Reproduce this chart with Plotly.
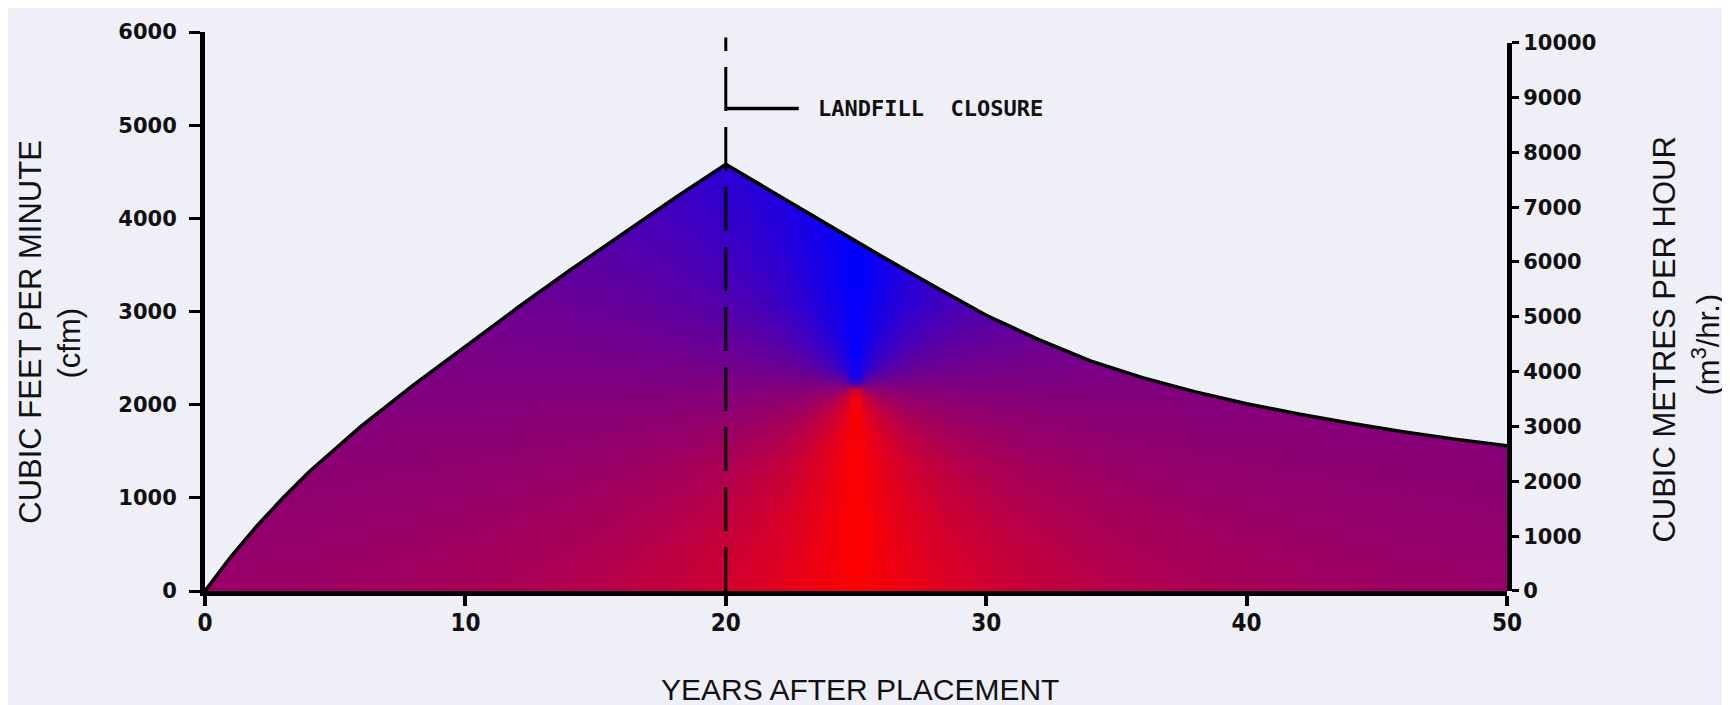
import math
import numpy as np
import plotly.graph_objects as go

# ---------------- data ----------------
years = [0, 1, 2, 3, 4, 5, 6, 8, 10, 12, 14, 16, 18, 20,
         22, 24, 26, 28, 30, 32, 34, 36, 38, 40, 42, 44, 46, 48, 50]
flow_cfm = [0, 370, 700, 1000, 1280, 1530, 1770, 2210, 2630, 3040, 3440, 3830, 4210, 4580,
            4250, 3910, 3590, 3270, 2960, 2700, 2470, 2290, 2140, 2010, 1900, 1800, 1710, 1630, 1560]

x_ticks = [0, 10, 20, 30, 40, 50]
cfm_ticks = [0, 1000, 2000, 3000, 4000, 5000, 6000]
m3h_ticks = [0, 1000, 2000, 3000, 4000, 5000, 6000, 7000, 8000, 9000, 10000]

CLOSURE_YEAR = 20
CLOSURE_LABEL = "LANDFILL\u00a0\u00a0CLOSURE"
CALLOUT_CFM = 5180
CFM_TO_M3H = 1.699
X_MAX = 50
CFM_MAX = 6000
M3H_MAX = 10000

# ---------------- style ----------------
BG = "#efeff7"
PAGE_OFF = 8                       # default body margin of the html page
W, H = 1730 - PAGE_OFF, 705 - PAGE_OFF
L, R, T, B = 197, 223, 16, 114
PW, PH = W - L - R, H - T - B
PX_PER_YEAR = PW / X_MAX
PX_PER_CFM = PH / CFM_MAX
# conic gradient centre (style of the fill)
GC_X, GC_Y = 25.0, 2250.0


def conic_rgb(x, y):
    dx = (x - GC_X) * PX_PER_YEAR
    dy = (y - GC_Y) * PX_PER_CFM
    theta = math.atan2(abs(dx), dy)  # 0 straight up -> pi straight down
    t = theta / math.pi
    r = int(round(255 * t))
    b = int(round(255 * (1 - t)))
    return f"rgb({r},0,{b})"


fig = go.Figure()

# gradient-filled area drawn as thin vertical strips following the data curve
step = 0.25
overlap = 0.08
grid = np.arange(0, X_MAX + 1e-9, step)
ys_samples = np.unique(np.concatenate([
    np.linspace(0, CFM_MAX, 49),
    GC_Y + np.array([-400, -200, -100, -50, -20, -5, 0, 5, 20, 50, 100, 200, 400]),
]))
for i in range(len(grid) - 1):
    xa, xb = float(grid[i]), float(grid[i + 1])
    xb2 = min(xb + overlap, X_MAX)
    ya = float(np.interp(xa, years, flow_cfm))
    yb = float(np.interp(xb, years, flow_cfm))
    yb2 = float(np.interp(xb2, years, flow_cfm))
    xc = 0.5 * (xa + xb)
    cs = [[float(v / CFM_MAX), conic_rgb(xc, v)] for v in ys_samples]
    fig.add_trace(go.Scatter(
        x=[xa, xa, xb, xb2, xb2, xa], y=[0, ya, yb, yb2, 0, 0],
        mode="lines", fill="toself", line=dict(width=0),
        fillgradient=dict(type="vertical", colorscale=cs, start=0, stop=CFM_MAX),
        hoverinfo="skip", showlegend=False,
    ))

# outline of the curve
fig.add_trace(go.Scatter(
    x=years, y=flow_cfm, mode="lines",
    line=dict(color="black", width=3.5), showlegend=False, hoverinfo="skip",
))

# empty trace so the secondary (m3/hr) axis subplot exists
fig.add_trace(go.Scatter(x=[], y=[], yaxis="y2", showlegend=False))

# closure marker
fig.add_shape(type="line", xref="x", yref="y domain",
              x0=CLOSURE_YEAR, x1=CLOSURE_YEAR, y0=0, y1=0.99,
              line=dict(color="black", width=3, dash="44px,16px"))
fig.add_shape(type="line", xref="x", yref="y",
              x0=CLOSURE_YEAR, x1=CLOSURE_YEAR + 2.8, y0=CALLOUT_CFM, y1=CALLOUT_CFM,
              line=dict(color="black", width=3.5))
fig.add_annotation(x=CLOSURE_YEAR + 3.45, y=CALLOUT_CFM, xref="x", yref="y",
                   text=CLOSURE_LABEL, showarrow=False, xanchor="left", yanchor="middle",
                   font=dict(family="DejaVu Sans Mono", size=22, color="#111", weight="bold"))

title_font = dict(family="Liberation Sans, Arial", size=31, color="#111")


def px_to_paper(px, py):
    """page pixel position -> paper coordinates of the figure"""
    fx, fy = px - PAGE_OFF, py - PAGE_OFF
    return (fx - L) / PW, (H - B - fy) / PH


for text, (px, py), ang, fs in [
    ("CUBIC FEET PER MINUTE", (31, 328), -90, 31),
    ("(cfm)", (70, 340), -90, 31),
    ("CUBIC METRES PER HOUR", (1665, 336), -90, 31),
    ("(m<sup>3</sup>/hr.)", (1706, 341), -90, 31),
    ("YEARS AFTER PLACEMENT", (860, 691), 0, 30),
]:
    ax, ay = px_to_paper(px, py)
    fig.add_annotation(x=ax, y=ay, xref="paper", yref="paper", text=text,
                       showarrow=False, textangle=ang, xanchor="center", yanchor="middle",
                       font=dict(title_font, size=fs))

tick_font = dict(family="DejaVu Sans", size=21, color="#111", weight="bold")

fig.update_layout(
    width=W, height=H,
    margin=dict(l=L, r=R, t=T, b=B, pad=0),
    paper_bgcolor=BG, plot_bgcolor="rgba(0,0,0,0)",
    showlegend=False,
    xaxis=dict(range=[0, X_MAX], tickvals=x_ticks, ticktext=[str(v) for v in x_ticks],
               ticks="outside", ticklen=10, tickwidth=3.5, tickcolor="black",
               showline=True, linewidth=5, linecolor="black",
               showgrid=False, zeroline=False,
               tickfont=dict(family="Liberation Sans Narrow, DejaVu Sans Condensed, Liberation Sans",
                             size=24, color="#111", weight="bold"),
               ticklabelstandoff=-4, anchor="y"),
    yaxis=dict(range=[0, CFM_MAX], tickvals=cfm_ticks, ticktext=[str(v) for v in cfm_ticks],
               ticks="outside", ticklen=11, tickwidth=3, tickcolor="black",
               showline=True, linewidth=5, linecolor="black",
               showgrid=False, zeroline=False, tickfont=tick_font,
               ticklabelstandoff=8, anchor="x"),
    yaxis2=dict(range=[0, M3H_MAX], domain=[0, M3H_MAX / (CFM_MAX * CFM_TO_M3H)],
                tickvals=m3h_ticks, ticktext=[str(v) for v in m3h_ticks],
                side="right", anchor="x",
                ticks="outside", ticklen=7, tickwidth=3, tickcolor="black",
                showline=True, linewidth=5, linecolor="black",
                showgrid=False, zeroline=False, tickfont=tick_font,
                ticklabelstandoff=0),
)

fig.write_html("out.html")
